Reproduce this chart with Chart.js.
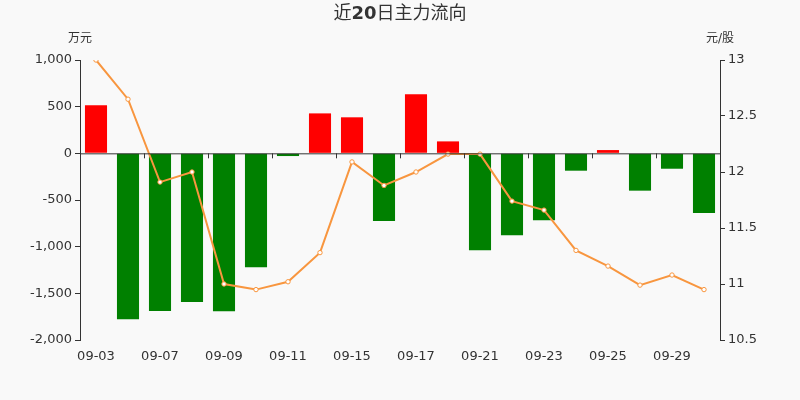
<!DOCTYPE html>
<html>
<head>
<meta charset="utf-8">
<script src="https://cdn.jsdelivr.net/npm/chart.js@4/dist/chart.umd.min.js"></script>
<style>
  html, body { margin: 0; padding: 0; background: #f9f9f9; }
  #wrap { width: 800px; height: 400px; }
</style>
</head>
<body>
<div id="wrap"><canvas id="chart"></canvas></div>
<script>
// data
const dates = ["09-03", "09-04", "09-07", "09-08", "09-09", "09-10", "09-11", "09-14", "09-15", "09-16",
               "09-17", "09-18", "09-21", "09-22", "09-23", "09-24", "09-25", "09-28", "09-29", "09-30"];
const mainFlow = [515, -1778, -1689, -1593, -1693, -1221, -29, 428, 386, -725,
                  632, 128, -1039, -878, -718, -186, 35, -400, -165, -640];
const price = [13.0, 12.65, 11.91, 12.0, 11.0, 10.95, 11.02, 11.28, 12.09, 11.88,
               12.0, 12.16, 12.16, 11.74, 11.66, 11.3, 11.16, 10.99, 11.08, 10.95];
const leftTicks = [-2000, -1500, -1000, -500, 0, 500, 1000];
const rightTicks = [10.5, 11, 11.5, 12, 12.5, 13];

const FONT = "'DejaVu Sans', 'Noto Sans CJK SC', sans-serif";
const TXT = "#333";

// axis line at zero, axis names and title
const decorPlugin = {
  id: "decor",
  afterDraw(chart) {
    const { ctx, chartArea, scales } = chart;
    const y0 = scales.y.getPixelForValue(0);
    ctx.save();
    ctx.strokeStyle = TXT;
    ctx.lineWidth = 1;
    ctx.beginPath();
    ctx.moveTo(chartArea.left, y0 + 0.5);
    ctx.lineTo(chartArea.right, y0 + 0.5);
    // tick marks between every other category
    const step = (chartArea.right - chartArea.left) / dates.length;
    for (let i = 2; i < dates.length; i += 2) {
      const px = Math.round(chartArea.left + step * i) + 0.5;
      ctx.moveTo(px, y0);
      ctx.lineTo(px, y0 + 5);
    }
    ctx.stroke();

    ctx.fillStyle = TXT;
    ctx.font = "12px " + FONT;
    ctx.textAlign = "center";
    ctx.textBaseline = "middle";
    ctx.fillText("万元", chartArea.left, 39);
    ctx.fillText("元/股", chartArea.right, 39);

    // title: digits bold, CJK regular
    const parts = [["近", "18px"], ["20", "bold 18px"], ["日主力流向", "18px"]];
    let total = 0;
    parts.forEach(p => { ctx.font = p[1] + " " + FONT; total += ctx.measureText(p[0]).width; });
    let tx = 400 - total / 2;
    ctx.textAlign = "left";
    parts.forEach(p => {
      ctx.font = p[1] + " " + FONT;
      ctx.fillText(p[0], tx, 14);
      tx += ctx.measureText(p[0]).width;
    });
    ctx.restore();
  }
};

new Chart(document.getElementById("chart"), {
  data: {
    labels: dates,
    datasets: [
      {
        type: "line",
        label: "股价",
        data: price,
        yAxisID: "y1",
        borderColor: "#f8963f",
        borderWidth: 2,
        pointRadius: 2.2,
        pointBorderWidth: 1,
        pointBackgroundColor: "#fff",
        pointBorderColor: "#f8963f",
        tension: 0,
        order: 0
      },
      {
        type: "bar",
        label: "主力流向",
        data: mainFlow,
        yAxisID: "y",
        backgroundColor: ctx => (ctx.raw >= 0 ? "#ff0000" : "#008000"),
        barPercentage: 0.69,
        categoryPercentage: 1,
        order: 1
      }
    ]
  },
  options: {
    responsive: true,
    maintainAspectRatio: false,
    animation: false,
    layout: { padding: { top: 60, left: 0, right: 0, bottom: 0 } },
    plugins: {
      legend: { display: false },
      title: { display: false },
      tooltip: { enabled: false }
    },
    scales: {
      x: {
        offset: true,
        grid: { display: false },
        border: { display: false },
        ticks: {
          autoSkip: false,
          maxRotation: 0,
          color: TXT,
          font: { size: 13, family: FONT },
          padding: 1,
          callback: (v, i) => (i % 2 === 0 ? dates[i] : "")
        },
        afterFit: s => { s.height = 60; }
      },
      y: {
        position: "left",
        min: -2000,
        max: 1000,
        afterBuildTicks: s => { s.ticks = leftTicks.map(v => ({ value: v })); },
        grid: { drawOnChartArea: false, tickLength: 5, color: TXT },
        border: { display: true, color: TXT },
        ticks: {
          color: TXT,
          font: { size: 13, family: FONT },
          padding: 3,
          callback: v => v.toLocaleString("en-US")
        },
        afterFit: s => { s.width = 80; }
      },
      y1: {
        position: "right",
        min: 10.5,
        max: 13,
        afterBuildTicks: s => { s.ticks = rightTicks.map(v => ({ value: v })); },
        grid: { drawOnChartArea: false, tickLength: 5, color: TXT },
        border: { display: true, color: TXT },
        ticks: {
          color: TXT,
          font: { size: 13, family: FONT },
          padding: 3,
          callback: v => String(v)
        },
        afterFit: s => { s.width = 80; }
      }
    }
  },
  plugins: [decorPlugin]
});
</script>
</body>
</html>
